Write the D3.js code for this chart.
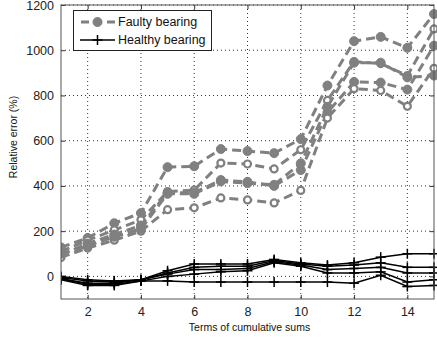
<!DOCTYPE html>
<html>
<head>
<meta charset="utf-8">
<script src="https://cdn.jsdelivr.net/npm/d3@7"></script>
<style>
  html, body { margin: 0; padding: 0; background: #fff; }
  svg { display: block; font-family: "Liberation Sans", Arial, sans-serif; }
</style>
</head>
<body>
<svg id="chart" width="437" height="342"></svg>
<script>
// Number of cumulative-sum terms on the x axis
const terms = d3.range(1, 16);

// Relative error (%) for the faulty bearing runs
const faulty1 = [128, 170, 235, 280, 483, 487, 563, 554, 545, 607, 844, 1040, 1059, 1011, 1160];
const faulty2 = [110, 160, 205, 250, 375, 382, 501, 497, 475, 560, 778, 950, 941, 888, 1094];
const faulty3 = [95, 145, 185, 225, 370, 370, 426, 418, 400, 470, 725, 860, 857, 826, 1020];
const faulty4 = [84, 125, 160, 200, 295, 303, 347, 338, 325, 380, 700, 830, 822, 752, 920];
const faulty5 = [100, 135, 175, 210, 365, 365, 420, 412, 405, 500, 750, 945, 945, 880, 888];

// Relative error (%) for the healthy bearing runs
const healthy1 = [0, -15, -20, -15, 25, 55, 55, 55, 75, 60, 50, 60, 85, 100, 100];
const healthy2 = [-5, -20, -25, -15, 15, 40, 45, 45, 70, 55, 45, 50, 60, 40, 40];
const healthy3 = [-10, -30, -30, -15, 10, 30, 30, 35, 65, 50, 30, 35, 40, 15, 15];
const healthy4 = [-15, -40, -40, -20, 0, 10, 20, 25, 60, 45, 15, 15, 20, -25, -15];
const healthy5 = [-10, -35, -35, -20, -20, -25, -25, -25, -25, -25, -25, -30, 5, -45, -40];

const xTicks = [2, 4, 6, 8, 10, 12, 14];
const yTicks = [0, 200, 400, 600, 800, 1000, 1200];

const faultySeries = [
  { values: faulty1, open: false },
  { values: faulty2, open: true },
  { values: faulty3, open: false },
  { values: faulty4, open: true },
  { values: faulty5, open: false }
];
const healthySeries = [healthy1, healthy2, healthy3, healthy4, healthy5];

const legendItems = ["Faulty bearing", "Healthy bearing"];

const svg = d3.select("#chart");
const plot = { left: 61, right: 434, top: 5, bottom: 299 };

const x = d3.scaleLinear().domain([1, 15]).range([plot.left, plot.right]);
const y = d3.scaleLinear().domain([-100, 1200]).range([plot.bottom, plot.top]);

const gray = "#808080";

// Dotted grid
const grid = svg.append("g");
grid.selectAll("line.gx").data(xTicks).join("line")
  .attr("x1", d => x(d)).attr("x2", d => x(d))
  .attr("y1", plot.top).attr("y2", plot.bottom)
  .attr("stroke", "#333").attr("stroke-width", 1).attr("stroke-dasharray", "1,3");
grid.selectAll("line.gy").data(yTicks).join("line")
  .attr("y1", d => y(d)).attr("y2", d => y(d))
  .attr("x1", plot.left).attr("x2", plot.right)
  .attr("stroke", "#333").attr("stroke-width", 1).attr("stroke-dasharray", "1,3");

// Axes with inward ticks on all four sides
const axisStyle = g => {
  g.select(".domain").remove();
  g.selectAll(".tick line").attr("stroke", "#333");
  g.selectAll(".tick text").attr("fill", "#222").attr("font-size", 12.5)
    .attr("font-family", "Liberation Sans, Arial, sans-serif");
};
const fmt = d3.format("d");
svg.append("g").attr("transform", `translate(0,${plot.bottom})`)
  .call(d3.axisBottom(x).tickValues(xTicks).tickFormat(fmt).tickSizeInner(-4).tickSizeOuter(0).tickPadding(8))
  .call(axisStyle);
svg.append("g").attr("transform", `translate(0,${plot.top})`)
  .call(d3.axisTop(x).tickValues(xTicks).tickSizeInner(-4).tickSizeOuter(0).tickFormat(""))
  .call(axisStyle);
svg.append("g").attr("transform", `translate(${plot.left},0)`)
  .call(d3.axisLeft(y).tickValues(yTicks).tickFormat(fmt).tickSizeInner(-4).tickSizeOuter(0).tickPadding(7))
  .call(axisStyle);
svg.append("g").attr("transform", `translate(${plot.right},0)`)
  .call(d3.axisRight(y).tickValues(yTicks).tickSizeInner(-4).tickSizeOuter(0).tickFormat(""))
  .call(axisStyle);

const line = d3.line().x((d, i) => x(terms[i])).y(d => y(d));

// Clip marks to the axes box
svg.append("clipPath").attr("id", "clip")
  .append("rect").attr("x", plot.left).attr("y", plot.top - 6)
  .attr("width", plot.right - plot.left + 6).attr("height", plot.bottom - plot.top + 6);
const marks = svg.append("g").attr("clip-path", "url(#clip)");

// Faulty bearing: gray dashed lines with circle markers
faultySeries.forEach(s => {
  marks.append("path").datum(s.values)
    .attr("d", line).attr("fill", "none")
    .attr("stroke", gray).attr("stroke-width", 3).attr("stroke-dasharray", "9,5");
  marks.selectAll(null).data(s.values).join("circle")
    .attr("cx", (d, i) => x(terms[i])).attr("cy", d => y(d))
    .attr("r", s.open ? 3.5 : 4.5)
    .attr("fill", s.open ? "#fff" : gray)
    .attr("stroke", gray).attr("stroke-width", s.open ? 2.2 : 1);
});

// Healthy bearing: black solid lines with plus markers
const plus = (g, cx, cy, h) => {
  g.append("line").attr("x1", cx - h).attr("x2", cx + h).attr("y1", cy).attr("y2", cy)
    .attr("stroke", "#000").attr("stroke-width", 1.5);
  g.append("line").attr("x1", cx).attr("x2", cx).attr("y1", cy - h).attr("y2", cy + h)
    .attr("stroke", "#000").attr("stroke-width", 1.5);
};
healthySeries.forEach(vals => {
  marks.append("path").datum(vals)
    .attr("d", line).attr("fill", "none")
    .attr("stroke", "#000").attr("stroke-width", 1.5);
  const g = marks.append("g");
  vals.forEach((v, i) => plus(g, x(terms[i]), y(v), 5));
});

// Axes box
svg.append("rect")
  .attr("x", plot.left).attr("y", plot.top)
  .attr("width", plot.right - plot.left).attr("height", plot.bottom - plot.top)
  .attr("fill", "none").attr("stroke", "#555").attr("stroke-width", 1);

// Legend
const lg = svg.append("g");
lg.append("rect").attr("x", 73.5).attr("y", 10.5).attr("width", 138).attr("height", 40)
  .attr("fill", "#fff").attr("stroke", "#222").attr("stroke-width", 1);
const lx1 = 80, lx2 = 115;
// faulty entry
lg.append("line").attr("x1", lx1).attr("x2", lx2).attr("y1", 22).attr("y2", 22)
  .attr("stroke", gray).attr("stroke-width", 3).attr("stroke-dasharray", "8,5").attr("stroke-dashoffset", -1);
lg.append("circle").attr("cx", (lx1 + lx2) / 2).attr("cy", 22).attr("r", 4.5)
  .attr("fill", gray).attr("stroke", gray);
// healthy entry
lg.append("line").attr("x1", lx1).attr("x2", lx2).attr("y1", 40).attr("y2", 40)
  .attr("stroke", "#000").attr("stroke-width", 1.5);
plus(lg, (lx1 + lx2) / 2, 40, 5);
lg.selectAll("text").data(legendItems).join("text")
  .attr("x", 118).attr("y", (d, i) => 22 + i * 18).attr("dy", "0.35em")
  .attr("font-size", 12.5).attr("fill", "#111").text(d => d);

// Axis titles
svg.append("text").attr("x", (plot.left + plot.right) / 2 + 2).attr("y", 327)
  .attr("dy", "0.35em").attr("text-anchor", "middle").attr("font-size", 10.5).attr("fill", "#111")
  .text("Terms of cumulative sums");
svg.append("text").attr("transform", `translate(13,${(plot.top + plot.bottom) / 2 - 15}) rotate(-90)`)
  .attr("dy", "0.35em").attr("text-anchor", "middle").attr("font-size", 10.5).attr("fill", "#111")
  .text("Relative error (%)");
</script>
</body>
</html>
